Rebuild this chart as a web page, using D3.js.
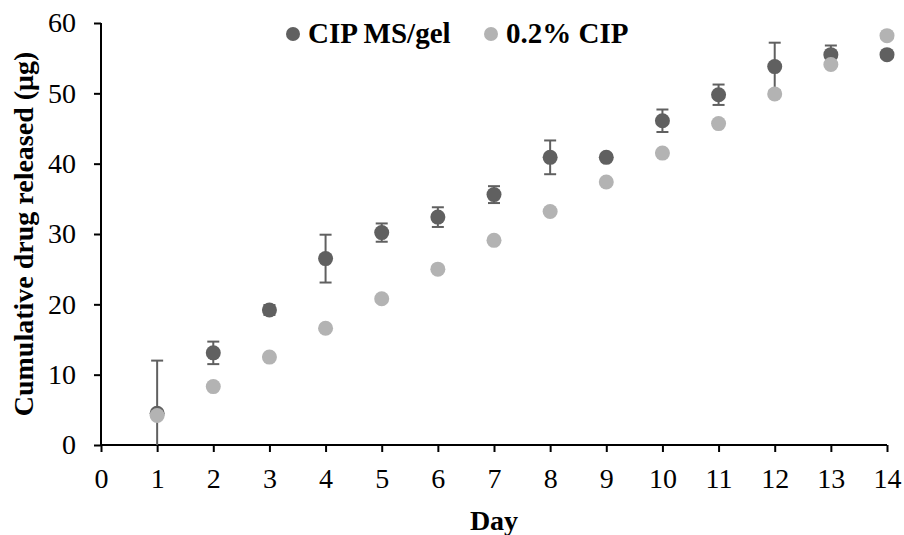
<!DOCTYPE html>
<html>
<head>
<meta charset="utf-8">
<script src="https://cdn.jsdelivr.net/npm/d3@7"></script>
<style>
  body { margin: 0; background: #fff; }
  svg text { font-family: "Liberation Serif", "Times New Roman", serif; }
</style>
</head>
<body>
<div id="chart"></div>
<script>
// données
var days = [1, 2, 3, 4, 5, 6, 7, 8, 9, 10, 11, 12, 13, 14];
var msGel = [4.5, 13.1, 19.2, 26.5, 30.2, 32.4, 35.6, 40.9, 40.9, 46.1, 49.8, 53.8, 55.5, 55.5];
var msGelErr = [7.5, 1.6, 0.7, 3.4, 1.3, 1.4, 1.2, 2.4, 0.2, 1.6, 1.45, 3.4, 1.3, 0];
var cip = [4.2, 8.3, 12.5, 16.6, 20.8, 25.0, 29.1, 33.2, 37.4, 41.5, 45.7, 49.9, 54.1, 58.2];
var xTicks = [0, 1, 2, 3, 4, 5, 6, 7, 8, 9, 10, 11, 12, 13, 14];
var yTicks = [0, 10, 20, 30, 40, 50, 60];
var seriesNames = ["CIP MS/gel", "0.2% CIP"];
var seriesColors = ["#606060", "#b3b3b3"];

var W = 904, H = 535;
var margin = { top: 23, right: 17, bottom: 90, left: 101 };

var svg = d3.select("#chart").append("svg")
  .attr("width", W).attr("height", H);

var x = d3.scaleLinear().domain([0, 14]).range([margin.left, W - margin.right]);
var y = d3.scaleLinear().domain([0, 60]).range([H - margin.bottom, margin.top]);

// axe X
var gx = svg.append("g")
  .attr("transform", "translate(0," + y(0) + ")")
  .call(d3.axisBottom(x).tickValues(xTicks).tickSize(7).tickPadding(16).tickSizeOuter(0));
// axe Y
var gy = svg.append("g")
  .attr("transform", "translate(" + x(0) + ",0)")
  .call(d3.axisLeft(y).tickValues(yTicks).tickSize(7).tickPadding(18).tickSizeOuter(0));

[gx, gy].forEach(function(g) {
  g.select(".domain").attr("stroke", "#000").attr("stroke-width", 2);
  g.selectAll(".tick line").attr("stroke", "#000").attr("stroke-width", 2);
  g.selectAll(".tick text").attr("fill", "#000").style("font-size", "28px")
    .style("font-family", "'Liberation Serif', serif");
});
gx.select(".domain").attr("d", "M" + x(0) + ",0H" + x(14));
gy.select(".domain").attr("d", "M0," + y(0) + "V" + y(60));

// titres des axes
svg.append("text")
  .attr("x", (x(0) + x(14)) / 2).attr("y", 530)
  .attr("text-anchor", "middle")
  .style("font-size", "28px").style("font-weight", "bold")
  .text("Day");

svg.append("text")
  .attr("transform", "translate(33," + ((425 + 43) / 2) + ") rotate(-90)")
  .attr("text-anchor", "middle")
  .style("font-size", "28px").style("font-weight", "bold")
  .text("Cumulative drug released (μg)");

// barres d'erreur
var errData = days.map(function(d, i) { return { day: d, v: msGel[i], e: msGelErr[i] }; })
  .filter(function(d) { return d.e > 0; });
var capW = 6;
var eg = svg.append("g").attr("stroke", seriesColors[0]).attr("stroke-width", 2);
errData.forEach(function(d) {
  var top = y(d.v + d.e), bot = y(Math.max(0, d.v - d.e));
  eg.append("line").attr("x1", x(d.day)).attr("x2", x(d.day)).attr("y1", top).attr("y2", bot);
  eg.append("line").attr("x1", x(d.day) - capW).attr("x2", x(d.day) + capW).attr("y1", top).attr("y2", top);
  if (d.v - d.e > 0)
    eg.append("line").attr("x1", x(d.day) - capW).attr("x2", x(d.day) + capW).attr("y1", bot).attr("y2", bot);
});

// points
svg.append("g").selectAll("circle").data(days).enter().append("circle")
  .attr("cx", function(d) { return x(d); })
  .attr("cy", function(d, i) { return y(msGel[i]); })
  .attr("r", 7.5).attr("fill", seriesColors[0]);

svg.append("g").selectAll("circle").data(days).enter().append("circle")
  .attr("cx", function(d) { return x(d); })
  .attr("cy", function(d, i) { return y(cip[i]); })
  .attr("r", 7.5).attr("fill", seriesColors[1]);

// légende
var legendX = [293, 491];
var lg = svg.append("g");
seriesNames.forEach(function(name, i) {
  lg.append("circle").attr("cx", legendX[i]).attr("cy", 34).attr("r", 7).attr("fill", seriesColors[i]);
  lg.append("text").attr("x", legendX[i] + 15).attr("y", 43)
    .style("font-size", "29px").style("font-weight", "bold").text(name);
});
</script>
</body>
</html>
